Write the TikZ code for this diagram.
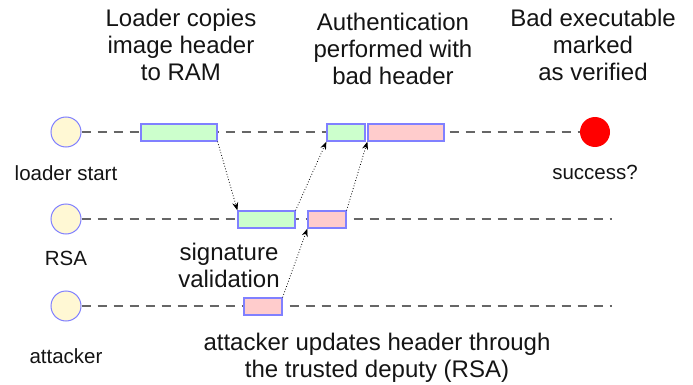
\documentclass[tikz,border=0pt]{standalone}
\usepackage{fontspec}
\setmainfont{Liberation Sans}
\usetikzlibrary{arrows.meta}

\definecolor{laneGray}{HTML}{666666}
\definecolor{edgeBlue}{HTML}{8080FF}
\definecolor{actorFill}{HTML}{FFF8D4}
\definecolor{okFill}{HTML}{CCFFCC}
\definecolor{badFill}{HTML}{FFCCCC}

\begin{document}
\begin{tikzpicture}[x=1pt,y=-1pt,
  lane/.style={draw=laneGray, line width=1.3pt, dash pattern=on 9pt off 7pt},
  actor/.style={circle, draw=edgeBlue, fill=actorFill, line width=1pt,
                minimum size=30pt, inner sep=0pt},
  goal/.style={circle, fill=red, minimum size=30pt, inner sep=0pt},
  stepbox/.style={rectangle, draw=edgeBlue, line width=1.2pt,
                  minimum height=17pt, inner sep=0pt},
  okbox/.style={stepbox, fill=okFill},
  badbox/.style={stepbox, fill=badFill},
  flow/.style={draw=black, line width=0.8pt, dotted,
               -{Stealth[length=8pt,width=6pt]}},
  small/.style={font=\fontsize{20.5}{24}\selectfont, text=black!92},
  big/.style={font=\fontsize{24}{27}\selectfont, align=center, text=black!92}
]
\useasboundingbox (0,0) rectangle (693,385);

% actors
\node[actor] (ld) at (66,132) {};
\node[actor] (rsa) at (66,219) {};
\node[actor] (att) at (66,306) {};
\node[goal]  (ok) at (595,132) {};

% lane ends
\coordinate (rsaend) at (612,219);
\coordinate (attend) at (612,306);

% lanes
\draw[lane] (ld.east) -- (ok.west);
\draw[lane] (rsa.east) -- (rsaend);
\draw[lane] (att.east) -- (attend);

% steps
\node[okbox,  minimum width=76pt] (copy)  at (179,132.5) {};
\node[okbox,  minimum width=38pt] (auth)  at (346,132.5) {};
\node[badbox, minimum width=76pt] (mark)  at (406,132.5) {};
\node[okbox,  minimum width=57pt] (sig)   at (266.5,219.5) {};
\node[badbox, minimum width=38pt] (res)   at (327,219.5) {};
\node[badbox, minimum width=38pt] (upd)   at (263,306.5) {};

% message flow
\draw[flow] (copy.south east) -- (sig.north west);
\draw[flow] (sig.north east) -- (auth.south west);
\draw[flow] (upd.north east) -- (res.south west);
\draw[flow] (res.north east) -- (mark.south west);

% labels
\node[small] (lldr) at (66,173) {loader start};
\node[small] (lrsa) at (66,258) {RSA};
\node[small] (latt) at (66,356) {attacker};
\node[small] (lok)  at (595,172) {success?};

\node[big] (h1) at (181,45) {Loader copies\\image header\\to RAM};
\node[big] (h2) at (393,49) {Authentication\\performed with\\bad header};
\node[big] (h3) at (593,45) {Bad executable\\marked\\as verified};
\node[big] (hs) at (229,265) {signature\\validation};
\node[big] (ha) at (377,358) {attacker updates header through\\the trusted deputy (RSA)};
\end{tikzpicture}
\end{document}
